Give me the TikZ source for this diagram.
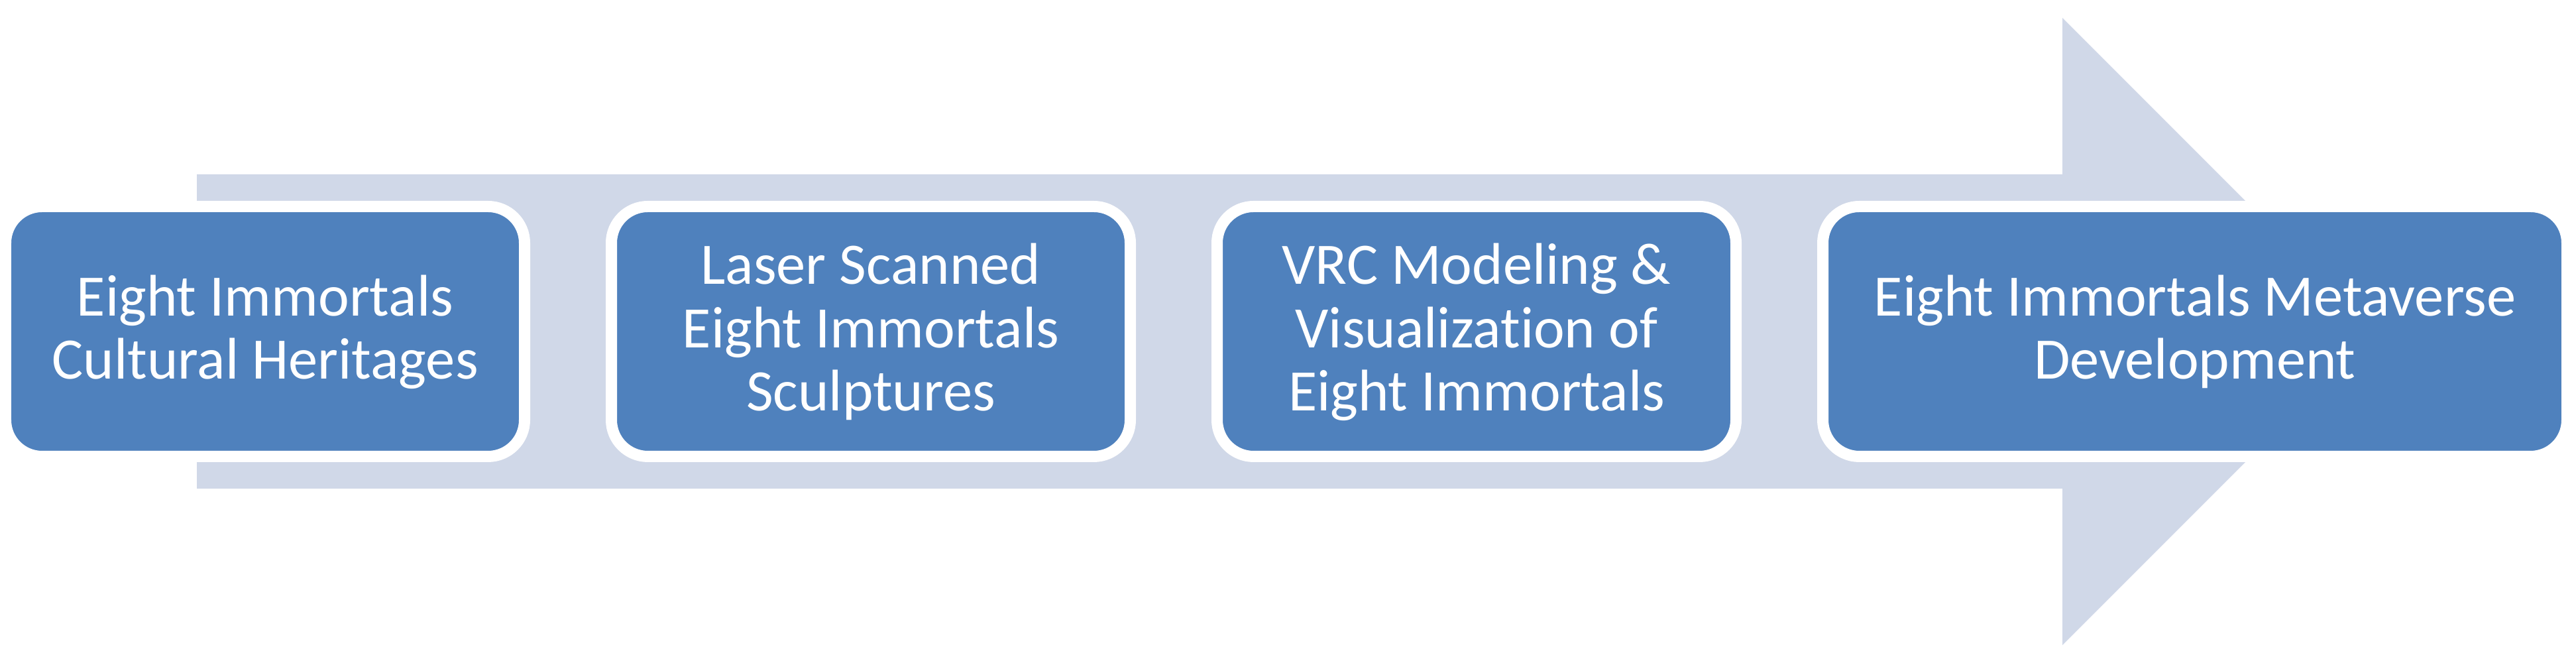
\documentclass[tikz,border=0pt]{standalone}
\usepackage{fontspec}
\setmainfont[Ligatures=CommonOff]{Carlito}
\usetikzlibrary{positioning}
\definecolor{fleche}{RGB}{208,216,232}
\definecolor{bleu}{RGB}{79,129,189}
\tikzset{
  etape/.style={draw=white, line width=0.17cm, fill=bleu, rounded corners=0.55cm,
    minimum height=3.77cm, inner sep=0pt, text=white, align=center,
    font=\fontsize{25.2}{27.3}\selectfont, text height=#1, text depth=0.2cm},
  etape/.default=1.64cm,
}
\begin{document}
\begin{tikzpicture}
\useasboundingbox (0,0) rectangle (38.87,10);
% Flèche de fond
\fill[fleche] (2.97,2.63) -- (31.12,2.63) -- (31.12,0.27) -- (35.85,5.0)
  -- (31.12,9.73) -- (31.12,7.37) -- (2.97,7.37) -- cycle;
% Boîtes des étapes (2 lignes : 1.64cm, 3 lignes : 2.60cm)
\node[etape, minimum width=7.83cm, anchor=west] (heritage) at (0,5.0) {Eight Immortals\\Cultural Heritages};
\node[etape=2.60cm, minimum width=7.83cm, right=1.14cm of heritage] (scan) {Laser Scanned\\Eight Immortals\\Sculptures};
\node[etape=2.60cm, minimum width=7.83cm, right=1.14cm of scan] (vrc) {VRC Modeling \&\\Visualization of\\Eight Immortals};
\node[etape, minimum width=11.23cm, right=1.14cm of vrc] (metaverse) {Eight Immortals Metaverse\\Development};
\end{tikzpicture}
\end{document}
